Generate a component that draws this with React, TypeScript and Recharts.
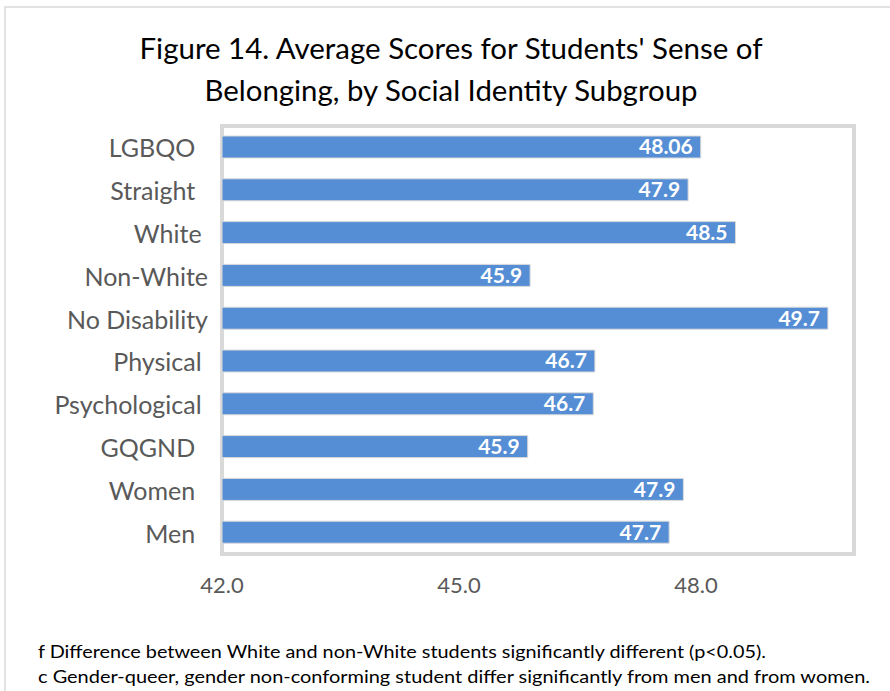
import React from 'react';
import { BarChart, Bar, XAxis, YAxis, LabelList, ReferenceArea } from 'recharts';

const categories = ["LGBQO  ", "Straight  ", "White ", "Non-White", "No Disability", "Physical ", "Psychological ", "GQGND  ", "Women  ", "Men  "];
const scores = [48.06, 47.9, 48.5, 45.9, 49.67, 46.72, 46.7, 45.87, 47.84, 47.66];
const scoreLabels = ["48.06", "47.9", "48.5", "45.9", "49.7", "46.7", "46.7", "45.9", "47.9", "47.7"];
const xTicks = [42, 45, 48];
const xDomain = [42, 50];
const titleLines = ["Figure 14. Average Scores for Students' Sense of", "Belonging, by Social Identity Subgroup"];
const footnotes = [
  "f Difference between White and non-White students significantly different (p<0.05).",
  "c Gender-queer, gender non-conforming student differ significantly from men and from women.",
];

const data = categories.map((c, i) => ({ category: c, score: scores[i], label: scoreLabels[i] }));

const FONT = 'Lato, "Open Sans", sans-serif';

const YTick = (props: any) => {
  const { y, payload } = props;
  return (
    <text x={208} y={y} textAnchor="end" dominantBaseline="central" fill="#595959"
      style={{ fontFamily: FONT, fontSize: 25, whiteSpace: 'pre' }}>
      {payload.value}
    </text>
  );
};

const XTick = (props: any) => {
  const { x, y, payload } = props;
  return (
    <text x={x} y={y + 39} textAnchor="middle" fill="#595959" style={{ fontFamily: FONT, fontSize: 22 }}>
      {Number(payload.value).toFixed(1)}
    </text>
  );
};

export default function App() {
  return (
    <div style={{ position: 'absolute', left: 0, top: 0, width: 890, height: 691, background: '#fff', overflow: 'hidden' }}>
      <svg width={890} height={691} style={{ position: 'absolute', left: 0, top: 0 }}>
        <rect x={5} y={7} width={900} height={700} fill="none" stroke="#d9d9d9" strokeWidth={1.5} />
        {titleLines.map((t, i) => (
          <text key={i} x={451} y={59 + i * 42} textAnchor="middle" fill="#000"
            style={{ fontFamily: FONT, fontSize: 29 }}
            textLength={i === 0 ? 623 : 493} lengthAdjust="spacingAndGlyphs">{t}</text>
        ))}
        {footnotes.map((t, i) => (
          <text key={i} x={38} y={658 + i * 25} fill="#000"
            style={{ fontFamily: FONT, fontSize: 18 }}
            textLength={i === 0 ? 728 : 832} lengthAdjust="spacingAndGlyphs">{t}</text>
        ))}
      </svg>
      <div style={{ position: 'absolute', left: 0, top: 0 }}>
        <BarChart width={890} height={691} data={data} layout="vertical"
          margin={{ top: 126, right: 36, bottom: 97, left: 0 }} barSize={22}>
          <XAxis type="number" domain={xDomain} ticks={xTicks} axisLine={false} tickLine={false}
            tickSize={0} tickMargin={0} height={40} tick={<XTick />} interval={0} />
          <YAxis type="category" dataKey="category" width={222} axisLine={false} tickLine={false}
            tick={<YTick />} interval={0} />
          <ReferenceArea x1={42} x2={50} fill="none" stroke="#d9d9d9" strokeWidth={4} ifOverflow="visible" />
          <Bar dataKey="score" fill="#558ed5" stroke="#d9d9d9" strokeWidth={1} isAnimationActive={false}>
            <LabelList dataKey="label" position="insideRight" offset={8} fill="#ffffff"
              style={{ fontFamily: FONT, fontSize: 21, fontWeight: 700 }} />
          </Bar>
        </BarChart>
      </div>
    </div>
  );
}
